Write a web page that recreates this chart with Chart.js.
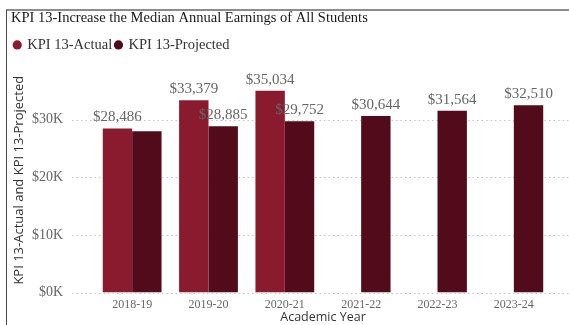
<!DOCTYPE html>
<html lang="en">
<head>
  <meta charset="UTF-8" />
  <title>KPI 13 – Median Annual Earnings</title>
  <script src="https://cdn.jsdelivr.net/npm/chart.js"></script>
  <style>
    html, body { margin: 0; padding: 0; background: #fff; }
    .card { position: relative; width: 569px; height: 325px; overflow: hidden; }
    .card canvas { position: absolute; left: 0; top: 0; }
    .frame {
      position: absolute; left: 6px; top: 9px; right: 0; bottom: -2px;
      border-top: 2px solid #8c8c8c; border-left: 1px solid #4a4a4a;
      pointer-events: none;
    }
  </style>
</head>
<body>

  <div class="card">
    <canvas id="kpiChart" width="569" height="325"></canvas>
    <div class="frame"></div>
  </div>

  <script>
    // Donnees du graphique
    const years = ['2018-19', '2019-20', '2020-21', '2021-22', '2022-23', '2023-24'];
    const actual = [28486, 33379, 35034, null, null, null];
    const projected = [27990, 28885, 29752, 30644, 31564, 32510];
    const yTicks = [0, 10000, 20000, 30000];

    const serif = "'Liberation Serif', 'Times New Roman', serif";
    const sans = "'Open Sans', 'DejaVu Sans', sans-serif";

    // petit espace vide entre la legende et la zone du graphique
    const legendGap = {
      id: 'legendGap',
      beforeInit(chart) {
        Chart.layouts.addBox(chart, {
          position: 'top',
          weight: 0,
          fullSize: true,
          options: {},
          isHorizontal: () => true,
          update(maxWidth) { this.width = maxWidth; this.height = 5.75; },
          draw() {}
        });
      }
    };

    // lignes de grille pointillees, un peu plus longues que la zone du graphique
    const dottedGrid = {
      id: 'dottedGrid',
      beforeDatasetsDraw(chart) {
        const { ctx, chartArea, scales } = chart;
        ctx.save();
        ctx.strokeStyle = '#c4c4c4';
        ctx.lineWidth = 1;
        ctx.setLineDash([1.5, 3]);
        yTicks.forEach(v => {
          const y = Math.round(scales.y.getPixelForValue(v)) + 0.5;
          ctx.beginPath();
          ctx.moveTo(chartArea.left - 22, y);
          ctx.lineTo(chart.width, y);
          ctx.stroke();
        });
        ctx.restore();
      }
    };

    // etiquettes de valeur au-dessus des barres (masquees si elles se chevauchent)
    const barLabels = {
      id: 'barLabels',
      afterDatasetsDraw(chart) {
        const { ctx } = chart;
        const placed = [];
        ctx.save();
        ctx.font = '15px ' + serif;
        ctx.fillStyle = '#666';
        ctx.textAlign = 'center';
        ctx.textBaseline = 'middle';
        chart.data.datasets.forEach((ds, i) => {
          chart.getDatasetMeta(i).data.forEach((bar, j) => {
            const v = ds.data[j];
            if (v === null) return;
            const text = '$' + v.toLocaleString('en-US');
            const w = ctx.measureText(text).width;
            const box = { x1: bar.x - w / 2, x2: bar.x + w / 2, y1: bar.y - 19, y2: bar.y - 3 };
            const hit = placed.some(b => b.x1 < box.x2 && box.x1 < b.x2 && b.y1 < box.y2 && box.y1 < b.y2);
            if (hit) return;
            placed.push(box);
            ctx.fillText(text, bar.x, bar.y - 11);
          });
        });
        ctx.restore();
      }
    };

    const ctx = document.getElementById('kpiChart').getContext('2d');

    const chart = new Chart(ctx, {
      type: 'bar',
      data: {
        labels: years,
        datasets: [
          {
            label: 'KPI 13-Actual',
            data: actual,
            backgroundColor: '#8a1a2d',
            categoryPercentage: 0.77,
            barPercentage: 1.0
          },
          {
            label: 'KPI 13-Projected',
            data: projected,
            backgroundColor: '#520b1b',
            categoryPercentage: 0.77,
            barPercentage: 1.0
          }
        ]
      },
      options: {
        responsive: false,
        animation: false,
        devicePixelRatio: 1,
        layout: { padding: { left: 11, right: 17, top: 0, bottom: 0 } },
        scales: {
          y: {
            min: 0,
            max: 39000,
            afterBuildTicks: scale => { scale.ticks = yTicks.map(v => ({ value: v })); },
            afterFit: scale => {
              scale.width = 83;
              scale.paddingTop = 0;
              scale.paddingBottom = 0;
            },
            grid: { display: false, drawTicks: false },
            border: { display: false },
            ticks: {
              padding: 31,
              color: '#666',
              font: { family: serif, size: 14 },
              callback: v => '$' + (v / 1000) + 'K'
            },
            title: {
              display: true,
              text: 'KPI 13-Actual and KPI 13-Projected',
              color: '#333',
              font: { family: sans, size: 13 },
              padding: { top: 0, bottom: 0 }
            }
          },
          x: {
            afterFit: scale => { scale.height = 32.5; },
            grid: { display: false, drawTicks: false },
            border: { display: false },
            ticks: {
              padding: 5,
              color: '#666',
              font: { family: serif, size: 12 }
            },
            title: {
              display: true,
              text: 'Academic Year',
              color: '#333',
              font: { family: sans, size: 12.5 },
              padding: { top: 0, bottom: 0 }
            }
          }
        },
        plugins: {
          title: {
            display: true,
            align: 'start',
            text: 'KPI 13-Increase the Median Annual Earnings of All Students',
            color: '#1a1a1a',
            font: { family: serif, size: 14.5, weight: 'normal' },
            padding: { top: 9.3, bottom: 7.5 }
          },
          legend: {
            position: 'top',
            align: 'start',
            labels: {
              usePointStyle: true,
              pointStyle: 'circle',
              boxWidth: 5.5,
              boxHeight: 6.5,
              padding: 3.5,
              color: '#333',
              font: { family: serif, size: 14.5 }
            }
          },
          tooltip: { enabled: false }
        }
      },
      plugins: [legendGap, dottedGrid, barLabels]
    });
  </script>

</body>
</html>
